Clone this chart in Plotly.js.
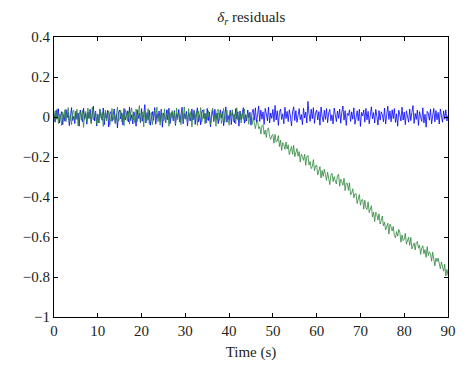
<!DOCTYPE html>
<html>
<head>
<meta charset="utf-8">
<script src="https://cdn.plot.ly/plotly-3.0.1.min.js"></script>
<style>html,body{margin:0;padding:0;background:#fff;}#chart{width:474px;height:379px;}</style>
</head>
<body>
<div id="chart"></div>
<script>
// Sampling: 0.25 s steps from 0 to 90 s
var timeStep = 0.25;
var tStart = 0;

// Residual 1 (blue)
var residualBlue = [
.018,-.026,.034,-.009,.041,-.030,.006,.027,-.038,.012,
-.021,.037,-.004,.024,-.043,.015,.047,-.017,.003,-.033,
.029,-.012,.020,-.046,.035,.008,-.024,.044,-.011,.018,
-.036,.025,-.006,.039,-.027,.010,.054,-.020,.030,-.045,
.013,-.029,.036,.004,-.017,.045,-.038,.022,-.007,.033,
-.050,.018,.027,-.022,.009,.040,-.032,.015,-.055,.023,
.035,-.010,.021,-.040,.043,-.015,.006,.031,-.025,.050,
-.018,.011,-.034,.026,.003,-.046,.036,-.008,.019,-.028,
.042,-.021,.012,.062,-.030,.022,-.013,.034,-.041,.010,
.027,-.017,.047,-.036,.015,-.006,.030,-.023,.039,-.051,
.020,.004,-.029,.036,-.014,.044,-.033,.008,.025,-.019,
.032,-.042,.016,-.003,.038,-.026,.012,.049,-.034,.018,
-.011,.028,-.045,.022,.005,-.020,.040,-.015,.031,-.037,
.014,.046,-.025,.010,-.039,.026,.035,-.008,.018,-.030,
.043,-.018,.024,-.049,.007,.032,-.022,.039,-.012,.020,
-.033,.015,.036,-.005,.027,-.044,.019,.051,-.026,.008,
-.016,.034,-.038,.023,.004,-.029,.042,-.010,.026,-.046,
.030,-.014,.018,.047,-.031,.011,-.020,.035,-.004,.024,
-.041,.022,.039,-.016,.046,-.027,.010,.055,-.022,.034,
-.011,.026,-.037,.043,.015,-.019,.050,-.030,.020,-.007,
.038,-.024,.058,-.015,.031,-.042,.023,.040,-.012,.016,
-.034,.049,-.008,.028,-.023,.036,.005,-.045,.026,.051,
-.018,.032,-.027,.022,.042,-.013,.012,-.038,.044,-.005,
.024,-.030,.078,.016,-.022,.039,-.009,.047,-.032,.019,
.035,-.015,.027,-.041,.050,.004,-.024,.034,-.012,.042,
-.028,.020,.038,-.019,.011,-.035,.045,.013,-.023,.030,
-.007,.040,-.031,.024,.055,-.016,.032,-.042,.018,.008,
.036,-.022,.026,-.011,.046,-.036,.015,.031,-.019,.039,
-.047,.023,.005,.035,-.026,.043,-.014,.028,-.034,.019,
.051,-.009,.022,-.030,.038,.003,-.040,.032,-.016,.026,
.012,-.023,.045,-.035,.020,.054,-.012,.030,-.024,.036,
-.008,.042,-.027,.016,-.046,.034,.011,-.020,.049,-.015,
.024,-.038,.031,.007,-.026,.040,-.018,.023,.057,-.032,
.018,-.012,.035,-.042,.027,.001,-.022,.046,-.030,.014,
-.051,.028,.020,-.016,.039,-.034,.009,.043,-.024,.032,
-.014,.023,-.035,.040,.005,-.026,.031,-.011,.036,-.020,.008
];

// Residual 2 (green): near zero, then drifting after ~45 s
var residualGreen = [
-.019,.030,-.012,.041,-.033,.015,.004,-.042,.024,-.008,
.037,-.023,.018,.047,-.027,.008,-.038,.022,.033,-.015,
-.004,.039,-.045,.019,.026,-.016,.034,-.052,.011,.028,
-.024,.045,-.009,.020,-.035,.049,-.014,.005,.027,-.039,
.016,-.030,.041,-.005,.023,-.047,.012,.035,-.020,.003,
.031,-.041,.019,.043,-.016,.009,-.032,.026,.050,-.022,
-.008,.034,-.026,.014,-.043,.038,.001,-.019,.028,-.036,
.022,.046,-.015,.007,-.031,.039,-.023,.016,.057,-.027,
-.012,.024,-.049,.032,.004,-.018,.042,-.034,.014,.023,
-.038,.018,.035,-.011,.049,-.024,.009,-.041,.030,.015,
-.020,.041,-.028,.005,.036,-.046,.022,-.007,.032,-.016,
.026,-.035,.045,-.014,.019,.003,-.039,.034,-.022,.051,
-.009,.016,-.031,.042,-.019,.027,-.050,.012,.035,-.005,
.023,-.042,.030,-.012,.047,-.026,.008,.038,-.034,.018,
-.015,.032,-.003,-.038,.026,.045,-.022,.011,-.047,.028,
.039,-.018,.020,-.032,.009,.043,-.027,.015,.035,-.012,
-.041,.024,.005,.036,-.023,.014,-.035,.046,-.016,.007,
.027,-.030,.018,-.011,.040,-.024,-.005,.020,-.036,.015,
.000,-.037,-.002,-.030, -.058,-.029,-.016,-.058,
-.048,-.085,-.045,-.038, -.087,-.065,-.102,-.061,
-.054,-.097,-.112,-.092, -.087,-.131,-.087,-.125,
-.121,-.093,-.148,-.115, -.167,-.128,-.138,-.162,
-.125,-.160,-.139,-.188, -.157,-.147,-.186,-.142,
-.198,-.183,-.158,-.196, -.173,-.225,-.186,-.198,
-.217,-.186,-.242,-.198, -.192,-.240,-.223,-.258,
-.248,-.213,-.268,-.244, -.240,-.290,-.268,-.248,
-.305,-.268,-.297,-.261, -.289,-.317,-.276,-.307,
-.338,-.290,-.281,-.323, -.298,-.318,-.335,-.293,
-.286,-.346,-.311,-.324, -.341,-.306,-.368,-.331,
-.331,-.367,-.329,-.389, -.380,-.359,-.404,-.384,
-.383,-.433,-.406,-.388, -.441,-.415,-.412,-.461,
-.416,-.454,-.463,-.424, -.478,-.462,-.444,-.500,
-.476,-.523,-.477,-.488, -.515,-.484,-.535,-.518,
-.495,-.544,-.526,-.565, -.551,-.531,-.585,-.536,
-.549,-.570,-.547,-.593, -.604,-.573,-.596,-.562,
-.577,-.626,-.590,-.618, -.612,-.582,-.636,-.614,
-.601,-.642,-.602,-.660, -.646,-.630,-.665,-.628,
-.622,-.656,-.640,-.687, -.656,-.644,-.684,-.663,
-.702,-.648,-.693,-.674, -.684,-.721,-.676,-.723,
-.744,-.705,-.723,-.706, -.726,-.759,-.725,-.758,
-.771,-.736,-.795,-.762, -.792
];

var xTickVals = [0,10,20,30,40,50,60,70,80,90];
var yTickVals = [0.4,0.2,0,-0.2,-0.4,-0.6,-0.8,-1];

var timeBlue = residualBlue.map(function(_, i){ return tStart + i * timeStep; });
var timeGreen = residualGreen.map(function(_, i){ return tStart + i * timeStep; });

var serif = "'Liberation Serif', 'DejaVu Serif', serif";
var textColor = '#231f20';

var traces = [
  {x: timeBlue, y: residualBlue, type: 'scatter', mode: 'lines',
   line: {color: '#0000ff', width: 0.8}, hoverinfo: 'skip'},
  {x: timeGreen, y: residualGreen, type: 'scatter', mode: 'lines',
   line: {color: 'rgb(45,135,60)', width: 0.8}, hoverinfo: 'skip'}
];

var axisCommon = {
  showline: true, linecolor: '#000', linewidth: 1, mirror: 'ticks',
  ticks: 'inside', ticklen: 4, tickcolor: '#000', tickwidth: 1,
  showgrid: false, zeroline: false,
  tickfont: {family: serif, size: 15, color: textColor}
};

var layout = {
  width: 474, height: 379,
  margin: {l: 54, r: 26, t: 37, b: 62},
  paper_bgcolor: '#fff', plot_bgcolor: '#fff',
  showlegend: false,
  title: {text: '<i>δ<sub>r</sub></i> residuals', font: {family: serif, size: 15, color: textColor},
          x: 0.53, xanchor: 'center', y: 0.955, yanchor: 'middle'},
  xaxis: Object.assign({}, axisCommon, {
    range: [0, 90], tickvals: xTickVals, ticktext: xTickVals.map(String),
    title: {text: 'Time (s)', font: {family: serif, size: 15, color: textColor}, standoff: 8}
  }),
  yaxis: Object.assign({}, axisCommon, {
    range: [-1, 0.4], tickvals: yTickVals,
    ticktext: yTickVals.map(function(v){ return v < 0 ? '\u2212' + String(-v) : String(v); })
  })
};

Plotly.newPlot('chart', traces, layout, {staticPlot: true, displayModeBar: false});
</script>
</body>
</html>
